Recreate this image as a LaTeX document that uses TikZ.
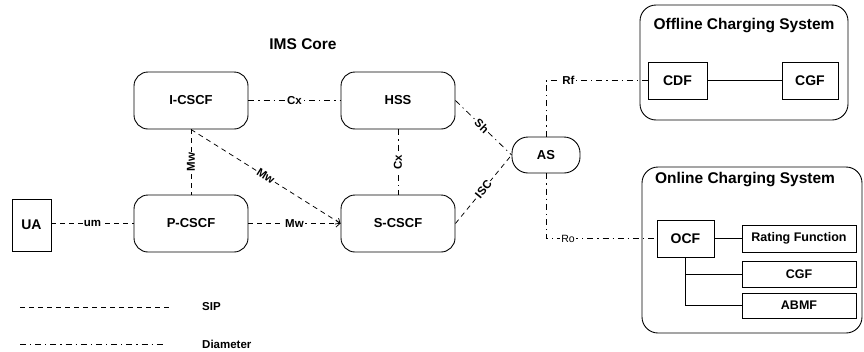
\documentclass[tikz,border=0pt]{standalone}
\usepackage{fontspec}
\setmainfont{Liberation Sans}
\usetikzlibrary{arrows.meta}
\begin{document}
\begin{tikzpicture}[x=1pt,y=-1pt,
  ims/.style={draw, line width=0.9pt, rounded corners=14pt, minimum width=114pt, minimum height=57pt, inner sep=0pt, font=\bfseries\fontsize{13}{15}\selectfont},
  sqbox/.style={draw, line width=0.9pt, inner sep=0pt, font=\bfseries\fontsize{14}{16}\selectfont},
  smbox/.style={draw, line width=0.9pt, inner sep=0pt, minimum width=114pt, font=\bfseries\fontsize{12.5}{14}\selectfont},
  sysbox/.style={draw, line width=0.9pt, rounded corners=16pt, inner sep=0pt},
  systitle/.style={font=\bfseries\fontsize{15.5}{18}\selectfont},
  sip/.style={line width=0.75pt, dash pattern=on 5pt off 4pt},
  dia/.style={line width=0.75pt, dash pattern=on 6pt off 4pt on 1.2pt off 4pt},
  solidln/.style={line width=0.75pt},
  lbl/.style={fill=white, inner sep=1.2pt, font=\bfseries\fontsize{11.5}{13}\selectfont},
  lblthin/.style={fill=white, inner sep=1.2pt, font=\fontsize{10.5}{12}\selectfont},
  barb/.style={-{Straight Barb[length=4pt,width=7pt,line width=0.75pt]}},
  legtxt/.style={anchor=west, inner sep=0pt, font=\bfseries\fontsize{11.5}{13}\selectfont}
]
\useasboundingbox (0,0) rectangle (864,351);

% IMS core
\node[font=\bfseries\fontsize{15.5}{18}\selectfont] (imscore) at (303,44) {IMS Core};
\node[ims] (icscf) at (191,100.5) {I-CSCF};
\node[ims] (hss) at (398,100.5) {HSS};
\node[ims] (pcscf) at (191,223.5) {P-CSCF};
\node[ims] (scscf) at (398,223.5) {S-CSCF};
\node[sqbox, minimum width=39pt, minimum height=52pt] (ua) at (31.5,225) {UA};
\node[draw, line width=0.9pt, rounded corners=16pt, minimum width=68pt, minimum height=36pt, inner sep=0pt, font=\bfseries\fontsize{13}{15}\selectfont] (as) at (546,155) {AS};

% Offline charging system
\node[sysbox, minimum width=208pt, minimum height=115pt] (offsys) at (744,62.5) {};
\node[systitle] (offtitle) at (744,26) {Offline Charging System};
\node[sqbox, minimum width=59pt, minimum height=37pt] (cdf) at (677.5,80.5) {CDF};
\node[sqbox, minimum width=56pt, minimum height=37pt] (cgf) at (810,80.5) {CGF};

% Online charging system
\node[sysbox, minimum width=220pt, minimum height=166pt] (onsys) at (752,250) {};
\node[systitle] (ontitle) at (745,180) {Online Charging System};
\node[sqbox, minimum width=57pt, minimum height=37pt] (ocf) at (685.5,238.5) {OCF};
\node[smbox, minimum height=27pt] (rating) at (799,238.5) {Rating Function};
\node[smbox, minimum height=26pt] (cgf2) at (799,274) {CGF};
\node[smbox, minimum height=25pt] (abmf) at (799,305.5) {ABMF};

% SIP connectors
\draw[sip] (ua.east |- pcscf.west) -- node[lbl]{um} (pcscf.west);
\draw[sip, barb] (pcscf.east) -- node[lbl]{Mw} (scscf.west);
\draw[sip] (icscf.south) -- node[lbl, rotate=90]{Mw} (pcscf.north);
\draw[sip, barb] (icscf.south) -- node[lbl, sloped]{Mw} (scscf.west);
\draw[sip] (scscf.east) -- node[lbl, sloped]{ISC} (as.west);

% Diameter connectors
\draw[dia] (icscf.east) -- node[lbl]{Cx} (hss.west);
\draw[dia] (hss.south) -- node[lbl, rotate=90]{Cx} (scscf.north);
\draw[dia] (hss.east) -- node[lbl, sloped, pos=0.47]{Sh} (as.west);
\coordinate (rfc) at (as.north |- cdf.west);
\draw[dia] (as.north) -- (rfc) -- node[lbl, pos=0.22]{Rf} (cdf.west);
\coordinate (roc) at (as.south |- ocf.west);
\draw[dia] (as.south) -- (roc) -- node[lblthin, pos=0.2]{Ro} (ocf.west);

% Charging internal links
\draw[solidln] (cdf.east) -- (cgf.west);
\draw[solidln] (ocf.east) -- (rating.west);
\draw[solidln] (ocf.south) -- (ocf.south |- abmf.west) -- (abmf.west);
\draw[solidln] (ocf.south |- cgf2.west) -- (cgf2.west);

% Legend
\coordinate (sipa) at (20,307);
\coordinate (sipb) at (172,307);
\draw[sip] (sipa) -- (sipb);
\node[legtxt] (siplbl) at (202,307) {SIP};
\coordinate (diaa) at (20,344);
\coordinate (diab) at (166,344);
\draw[dia] (diaa) -- (diab);
\node[legtxt] (dialbl) at (202,344) {Diameter};
\end{tikzpicture}
\end{document}
